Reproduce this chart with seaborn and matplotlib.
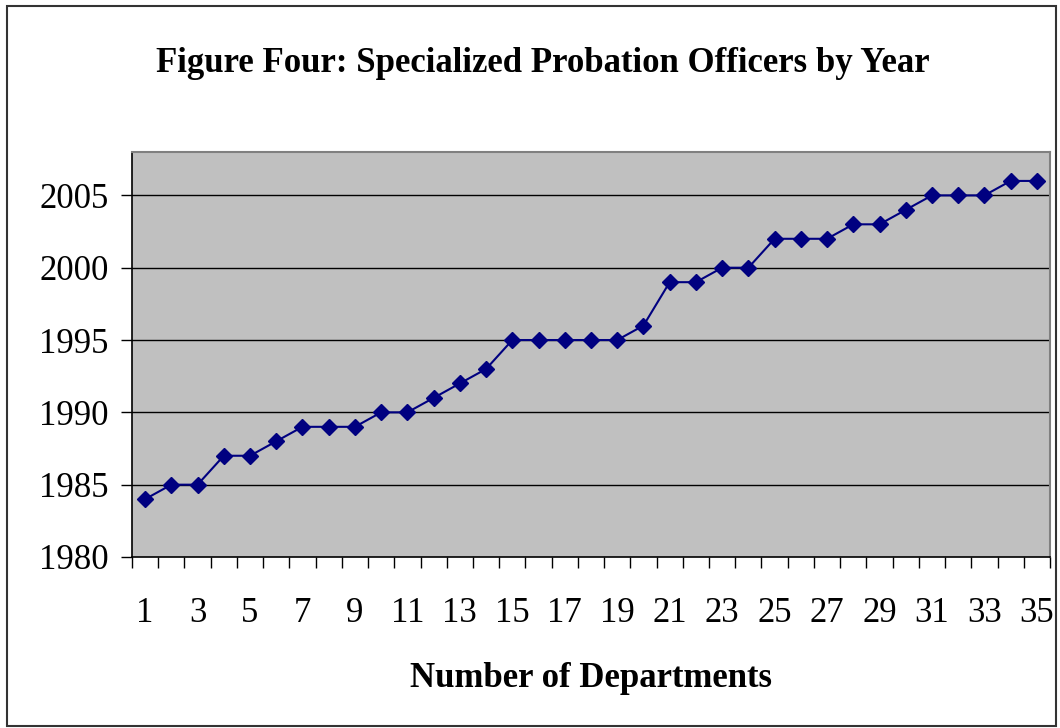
import matplotlib
matplotlib.use("Agg")
import matplotlib.pyplot as plt
from matplotlib.patches import Rectangle
from matplotlib.ticker import FixedLocator
import seaborn as sns
import pandas as pd

departments = list(range(1, 36))
years = [1984, 1985, 1985, 1987, 1987, 1988, 1989, 1989, 1989, 1990,
         1990, 1991, 1992, 1993, 1995, 1995, 1995, 1995, 1995, 1996,
         1999, 1999, 2000, 2000, 2002, 2002, 2002, 2003, 2003, 2004,
         2005, 2005, 2005, 2006, 2006]
ytick_values = [1980, 1985, 1990, 1995, 2000, 2005]
xtick_labels = list(range(1, 36, 2))

title = "Figure Four: Specialized Probation Officers by Year"
xlabel = "Number of Departments"

df = pd.DataFrame({"dept": departments, "year": years})

plt.rcParams["font.family"] = ["Liberation Serif", "DejaVu Serif"]

fig = plt.figure(figsize=(10.6, 7.28), dpi=100)
fig.patch.set_facecolor("white")
ax = fig.add_axes([132/1060, 1-557/728, (1050-132)/1060, (557-152)/728])
ax.set_facecolor("#C0C0C0")

for y in ytick_values[1:]:
    ax.axhline(y, color="#000000", lw=1.0, zorder=1)

sns.lineplot(data=df, x="dept", y="year", ax=ax, color="#000080",
             marker="D", markersize=8, linewidth=1.5, markeredgewidth=1,
             markeredgecolor="#000080", zorder=3)

ax.set_xlim(0.5, 35.5)
ax.set_ylim(1980, 2008)
ax.yaxis.set_major_locator(FixedLocator(ytick_values))
ax.set_yticklabels([str(v) for v in ytick_values], fontsize=25)
ax.tick_params(axis="y", direction="out", length=8, width=1, color="black", pad=9)

ax.xaxis.set_major_locator(FixedLocator(xtick_labels))
ax.set_xticklabels([str(v) for v in xtick_labels], fontsize=25)
ax.xaxis.set_minor_locator(FixedLocator([i + 0.5 for i in range(0, 36)]))
ax.tick_params(axis="x", which="major", length=0, pad=29)
ax.tick_params(axis="x", which="minor", direction="out", length=8, width=1, color="black")

ax.set_xlabel("")
ax.set_ylabel("")
ax.grid(False)

for side in ["left", "bottom"]:
    ax.spines[side].set_color("black")
    ax.spines[side].set_linewidth(1.2)
for side in ["top", "right"]:
    ax.spines[side].set_color("#808080")
    ax.spines[side].set_linewidth(1.5)

fig.text(543/1060, 1-72/728, title, ha="center", va="baseline",
         fontsize=25, fontweight="bold")
fig.text(591/1060, 1-687/728, xlabel, ha="center", va="baseline",
         fontsize=25, fontweight="bold")

fig.patches.append(Rectangle((7/1060, 2/728), (1056-7)/1060, (722-2)/728,
                             transform=fig.transFigure, fill=False,
                             edgecolor="#333333", linewidth=1.5))

fig.savefig("out.png", dpi=100)
